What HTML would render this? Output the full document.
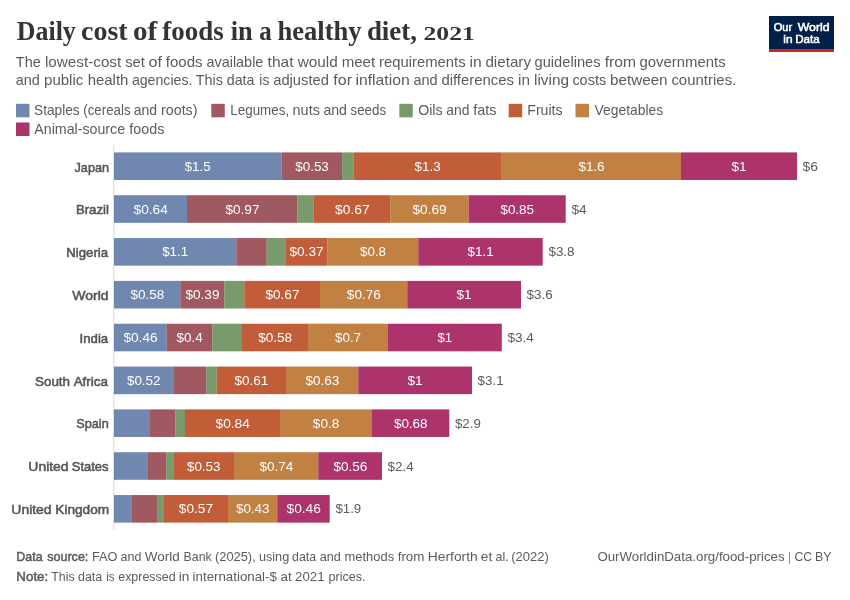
<!DOCTYPE html>
<html lang="en"><head><meta charset="utf-8"><title>Daily cost of foods in a healthy diet, 2021</title>
<style>html,body{margin:0;padding:0;background:#fff}svg{display:block}</style></head><body>
<svg width="850" height="600" viewBox="0 0 850 600" style="font-family:'Liberation Sans', sans-serif">
<rect width="850" height="600" fill="#fff"/>
<text y="40" font-family="'Liberation Serif', serif" font-weight="bold" font-size="28.2" fill="#333"><tspan x="16.86" textLength="58.92" lengthAdjust="spacingAndGlyphs">Daily</tspan> <tspan x="81.03" textLength="46.59" lengthAdjust="spacingAndGlyphs">cost</tspan> <tspan x="133.05" textLength="24.21" lengthAdjust="spacingAndGlyphs">of</tspan> <tspan x="162.21" textLength="61.43" lengthAdjust="spacingAndGlyphs">foods</tspan> <tspan x="230.72" textLength="21.96" lengthAdjust="spacingAndGlyphs">in</tspan> <tspan x="259.21" textLength="12.47" lengthAdjust="spacingAndGlyphs">a</tspan> <tspan x="277.44" textLength="84.11" lengthAdjust="spacingAndGlyphs">healthy</tspan> <tspan x="366.89" textLength="50.05" lengthAdjust="spacingAndGlyphs">diet,</tspan></text>
<text y="40" font-family="'Liberation Serif', serif" font-weight="bold" font-size="19.5" fill="#333"><tspan x="423.54" textLength="51.21" lengthAdjust="spacingAndGlyphs">2021</tspan></text>
<text y="67" font-size="15" fill="#5b5b5b"><tspan x="15.77" textLength="25.10" lengthAdjust="spacingAndGlyphs">The</tspan> <tspan x="44.99" textLength="76.23" lengthAdjust="spacingAndGlyphs">lowest-cost</tspan> <tspan x="125.24" textLength="19.67" lengthAdjust="spacingAndGlyphs">set</tspan> <tspan x="148.61" textLength="13.34" lengthAdjust="spacingAndGlyphs">of</tspan> <tspan x="165.76" textLength="36.84" lengthAdjust="spacingAndGlyphs">foods</tspan> <tspan x="206.40" textLength="57.00" lengthAdjust="spacingAndGlyphs">available</tspan> <tspan x="267.58" textLength="25.94" lengthAdjust="spacingAndGlyphs">that</tspan> <tspan x="297.68" textLength="40.11" lengthAdjust="spacingAndGlyphs">would</tspan> <tspan x="341.67" textLength="33.56" lengthAdjust="spacingAndGlyphs">meet</tspan> <tspan x="379.01" textLength="86.59" lengthAdjust="spacingAndGlyphs">requirements</tspan> <tspan x="469.46" textLength="12.21" lengthAdjust="spacingAndGlyphs">in</tspan> <tspan x="485.41" textLength="45.61" lengthAdjust="spacingAndGlyphs">dietary</tspan> <tspan x="534.54" textLength="66.06" lengthAdjust="spacingAndGlyphs">guidelines</tspan> <tspan x="604.74" textLength="31.28" lengthAdjust="spacingAndGlyphs">from</tspan> <tspan x="639.52" textLength="86.07" lengthAdjust="spacingAndGlyphs">governments</tspan></text>
<text y="85" font-size="15" fill="#5b5b5b"><tspan x="15.79" textLength="24.07" lengthAdjust="spacingAndGlyphs">and</tspan> <tspan x="44.03" textLength="39.30" lengthAdjust="spacingAndGlyphs">public</tspan> <tspan x="87.65" textLength="40.74" lengthAdjust="spacingAndGlyphs">health</tspan> <tspan x="131.89" textLength="60.60" lengthAdjust="spacingAndGlyphs">agencies.</tspan> <tspan x="195.84" textLength="27.14" lengthAdjust="spacingAndGlyphs">This</tspan> <tspan x="226.85" textLength="27.62" lengthAdjust="spacingAndGlyphs">data</tspan> <tspan x="259.33" textLength="9.96" lengthAdjust="spacingAndGlyphs">is</tspan> <tspan x="273.23" textLength="55.69" lengthAdjust="spacingAndGlyphs">adjusted</tspan> <tspan x="333.34" textLength="18.82" lengthAdjust="spacingAndGlyphs">for</tspan> <tspan x="355.42" textLength="54.26" lengthAdjust="spacingAndGlyphs">inflation</tspan> <tspan x="413.39" textLength="24.17" lengthAdjust="spacingAndGlyphs">and</tspan> <tspan x="441.40" textLength="72.59" lengthAdjust="spacingAndGlyphs">differences</tspan> <tspan x="518.02" textLength="11.93" lengthAdjust="spacingAndGlyphs">in</tspan> <tspan x="533.98" textLength="35.00" lengthAdjust="spacingAndGlyphs">living</tspan> <tspan x="572.40" textLength="33.73" lengthAdjust="spacingAndGlyphs">costs</tspan> <tspan x="610.01" textLength="57.60" lengthAdjust="spacingAndGlyphs">between</tspan> <tspan x="671.38" textLength="64.93" lengthAdjust="spacingAndGlyphs">countries.</tspan></text>
<rect x="769" y="16" width="65" height="33.2" fill="#002147"/>
<rect x="769" y="49" width="65" height="3" fill="#ce261e"/>
<text y="31" font-size="11.6" fill="#fff" stroke="#fff" stroke-width="0.55"><tspan x="773.64" textLength="18.48" lengthAdjust="spacingAndGlyphs">Our</tspan> <tspan x="797.67" textLength="31.91" lengthAdjust="spacingAndGlyphs">World</tspan></text>
<text y="43" font-size="11.6" fill="#fff" stroke="#fff" stroke-width="0.55"><tspan x="783.32" textLength="9.25" lengthAdjust="spacingAndGlyphs">in</tspan> <tspan x="795.14" textLength="24.47" lengthAdjust="spacingAndGlyphs">Data</tspan></text>
<rect x="16" y="103.8" width="13.5" height="13.5" fill="#7088b0"/>
<text y="115" font-size="14.4" fill="#5b5b5b"><tspan x="34.12" textLength="45.49" lengthAdjust="spacingAndGlyphs">Staples</tspan> <tspan x="83.21" textLength="47.40" lengthAdjust="spacingAndGlyphs">(cereals</tspan> <tspan x="133.80" textLength="23.37" lengthAdjust="spacingAndGlyphs">and</tspan> <tspan x="161.08" textLength="36.39" lengthAdjust="spacingAndGlyphs">roots)</tspan></text>
<rect x="211.3" y="103.8" width="13.5" height="13.5" fill="#a0595f"/>
<text y="115" font-size="14.4" fill="#5b5b5b"><tspan x="230.27" textLength="58.86" lengthAdjust="spacingAndGlyphs">Legumes,</tspan> <tspan x="292.58" textLength="27.30" lengthAdjust="spacingAndGlyphs">nuts</tspan> <tspan x="323.39" textLength="23.49" lengthAdjust="spacingAndGlyphs">and</tspan> <tspan x="350.51" textLength="35.63" lengthAdjust="spacingAndGlyphs">seeds</tspan></text>
<rect x="399.3" y="103.8" width="13.5" height="13.5" fill="#799a6a"/>
<text y="115" font-size="14.4" fill="#5b5b5b"><tspan x="418.13" textLength="24.47" lengthAdjust="spacingAndGlyphs">Oils</tspan> <tspan x="446.23" textLength="23.14" lengthAdjust="spacingAndGlyphs">and</tspan> <tspan x="473.32" textLength="23.27" lengthAdjust="spacingAndGlyphs">fats</tspan></text>
<rect x="508.7" y="103.8" width="13.5" height="13.5" fill="#c15d39"/>
<text y="115" font-size="14.4" fill="#5b5b5b"><tspan x="527.26" textLength="35.35" lengthAdjust="spacingAndGlyphs">Fruits</tspan></text>
<rect x="575.5" y="103.8" width="13.5" height="13.5" fill="#c18143"/>
<text y="115" font-size="14.4" fill="#5b5b5b"><tspan x="594.61" textLength="68.61" lengthAdjust="spacingAndGlyphs">Vegetables</tspan></text>
<rect x="16" y="122.5" width="13.5" height="13.5" fill="#ac336b"/>
<text y="134" font-size="14.4" fill="#5b5b5b"><tspan x="34.36" textLength="90.67" lengthAdjust="spacingAndGlyphs">Animal-source</tspan> <tspan x="129.32" textLength="35.02" lengthAdjust="spacingAndGlyphs">foods</tspan></text>
<rect x="113.3" y="145" width="1" height="385" fill="#d6d6d6"/>
<rect x="114.00" y="152.40" width="167.70" height="27.60" fill="#4C6A9C" fill-opacity="0.8"/>
<rect x="281.70" y="152.40" width="60.40" height="27.60" fill="#883039" fill-opacity="0.8"/>
<rect x="342.10" y="152.40" width="11.30" height="27.60" fill="#578145" fill-opacity="0.8"/>
<rect x="353.40" y="152.40" width="148.30" height="27.60" fill="#B13507" fill-opacity="0.8"/>
<rect x="501.70" y="152.40" width="179.30" height="27.60" fill="#B16214" fill-opacity="0.8"/>
<rect x="681.00" y="152.40" width="116.10" height="27.60" fill="#970046" fill-opacity="0.8"/>
<text y="171" font-size="13.5" fill="#fff"><tspan x="184.66" textLength="25.94" lengthAdjust="spacingAndGlyphs">$1.5</tspan></text>
<text y="171" font-size="13.5" fill="#fff"><tspan x="295.18" textLength="33.70" lengthAdjust="spacingAndGlyphs">$0.53</tspan></text>
<text y="171" font-size="13.5" fill="#fff"><tspan x="414.55" textLength="26.04" lengthAdjust="spacingAndGlyphs">$1.3</tspan></text>
<text y="171" font-size="13.5" fill="#fff"><tspan x="578.40" textLength="26.20" lengthAdjust="spacingAndGlyphs">$1.6</tspan></text>
<text y="171" font-size="13.5" fill="#fff"><tspan x="731.55" textLength="15.04" lengthAdjust="spacingAndGlyphs">$1</tspan></text>
<text y="171" font-size="13.5" fill="#5b5b5b"><tspan x="802.56" textLength="15.43" lengthAdjust="spacingAndGlyphs">$6</tspan></text>
<text y="172" font-size="13.5" fill="#555" stroke="#555" stroke-width="0.55"><tspan x="74.55" textLength="34.43" lengthAdjust="spacingAndGlyphs">Japan</tspan></text>
<rect x="114.00" y="195.23" width="73.00" height="27.60" fill="#4C6A9C" fill-opacity="0.8"/>
<rect x="187.00" y="195.23" width="110.30" height="27.60" fill="#883039" fill-opacity="0.8"/>
<rect x="297.30" y="195.23" width="16.40" height="27.60" fill="#578145" fill-opacity="0.8"/>
<rect x="313.70" y="195.23" width="76.60" height="27.60" fill="#B13507" fill-opacity="0.8"/>
<rect x="390.30" y="195.23" width="78.40" height="27.60" fill="#B16214" fill-opacity="0.8"/>
<rect x="468.70" y="195.23" width="97.00" height="27.60" fill="#970046" fill-opacity="0.8"/>
<text y="214" font-size="13.5" fill="#fff"><tspan x="133.56" textLength="34.34" lengthAdjust="spacingAndGlyphs">$0.64</tspan></text>
<text y="214" font-size="13.5" fill="#fff"><tspan x="225.40" textLength="34.10" lengthAdjust="spacingAndGlyphs">$0.97</tspan></text>
<text y="214" font-size="13.5" fill="#fff"><tspan x="335.11" textLength="34.46" lengthAdjust="spacingAndGlyphs">$0.67</tspan></text>
<text y="214" font-size="13.5" fill="#fff"><tspan x="412.55" textLength="34.05" lengthAdjust="spacingAndGlyphs">$0.69</tspan></text>
<text y="214" font-size="13.5" fill="#fff"><tspan x="500.40" textLength="33.71" lengthAdjust="spacingAndGlyphs">$0.85</tspan></text>
<text y="214" font-size="13.5" fill="#5b5b5b"><tspan x="571.41" textLength="15.22" lengthAdjust="spacingAndGlyphs">$4</tspan></text>
<text y="214" font-size="13.5" fill="#555" stroke="#555" stroke-width="0.55"><tspan x="75.92" textLength="33.04" lengthAdjust="spacingAndGlyphs">Brazil</tspan></text>
<rect x="114.00" y="238.06" width="122.30" height="27.60" fill="#4C6A9C" fill-opacity="0.8"/>
<rect x="236.30" y="238.06" width="30.40" height="27.60" fill="#883039" fill-opacity="0.8"/>
<rect x="266.70" y="238.06" width="18.60" height="27.60" fill="#578145" fill-opacity="0.8"/>
<rect x="285.30" y="238.06" width="42.00" height="27.60" fill="#B13507" fill-opacity="0.8"/>
<rect x="327.30" y="238.06" width="91.00" height="27.60" fill="#B16214" fill-opacity="0.8"/>
<rect x="418.30" y="238.06" width="124.40" height="27.60" fill="#970046" fill-opacity="0.8"/>
<text y="256" font-size="13.5" fill="#fff"><tspan x="162.18" textLength="26.00" lengthAdjust="spacingAndGlyphs">$1.1</tspan></text>
<text y="256" font-size="13.5" fill="#fff"><tspan x="289.40" textLength="34.20" lengthAdjust="spacingAndGlyphs">$0.37</tspan></text>
<text y="256" font-size="13.5" fill="#fff"><tspan x="359.91" textLength="26.19" lengthAdjust="spacingAndGlyphs">$0.8</tspan></text>
<text y="256" font-size="13.5" fill="#fff"><tspan x="467.55" textLength="26.05" lengthAdjust="spacingAndGlyphs">$1.1</tspan></text>
<text y="256" font-size="13.5" fill="#5b5b5b"><tspan x="548.40" textLength="26.20" lengthAdjust="spacingAndGlyphs">$3.8</tspan></text>
<text y="257" font-size="13.5" fill="#555" stroke="#555" stroke-width="0.55"><tspan x="66.35" textLength="41.74" lengthAdjust="spacingAndGlyphs">Nigeria</tspan></text>
<rect x="114.00" y="280.89" width="66.30" height="27.60" fill="#4C6A9C" fill-opacity="0.8"/>
<rect x="180.30" y="280.89" width="44.00" height="27.60" fill="#883039" fill-opacity="0.8"/>
<rect x="224.30" y="280.89" width="20.00" height="27.60" fill="#578145" fill-opacity="0.8"/>
<rect x="244.30" y="280.89" width="75.70" height="27.60" fill="#B13507" fill-opacity="0.8"/>
<rect x="320.00" y="280.89" width="87.30" height="27.60" fill="#B16214" fill-opacity="0.8"/>
<rect x="407.30" y="280.89" width="113.70" height="27.60" fill="#970046" fill-opacity="0.8"/>
<text y="299" font-size="13.5" fill="#fff"><tspan x="130.40" textLength="33.88" lengthAdjust="spacingAndGlyphs">$0.58</tspan></text>
<text y="299" font-size="13.5" fill="#fff"><tspan x="185.40" textLength="34.07" lengthAdjust="spacingAndGlyphs">$0.39</tspan></text>
<text y="299" font-size="13.5" fill="#fff"><tspan x="265.40" textLength="34.10" lengthAdjust="spacingAndGlyphs">$0.67</tspan></text>
<text y="299" font-size="13.5" fill="#fff"><tspan x="346.89" textLength="33.98" lengthAdjust="spacingAndGlyphs">$0.76</tspan></text>
<text y="299" font-size="13.5" fill="#fff"><tspan x="456.55" textLength="15.04" lengthAdjust="spacingAndGlyphs">$1</tspan></text>
<text y="299" font-size="13.5" fill="#5b5b5b"><tspan x="526.55" textLength="26.26" lengthAdjust="spacingAndGlyphs">$3.6</tspan></text>
<text y="300" font-size="13.5" fill="#555" stroke="#555" stroke-width="0.55"><tspan x="72.26" textLength="36.32" lengthAdjust="spacingAndGlyphs">World</tspan></text>
<rect x="114.00" y="323.72" width="52.70" height="27.60" fill="#4C6A9C" fill-opacity="0.8"/>
<rect x="166.70" y="323.72" width="45.60" height="27.60" fill="#883039" fill-opacity="0.8"/>
<rect x="212.30" y="323.72" width="29.70" height="27.60" fill="#578145" fill-opacity="0.8"/>
<rect x="242.00" y="323.72" width="66.00" height="27.60" fill="#B13507" fill-opacity="0.8"/>
<rect x="308.00" y="323.72" width="79.70" height="27.60" fill="#B16214" fill-opacity="0.8"/>
<rect x="387.70" y="323.72" width="114.10" height="27.60" fill="#970046" fill-opacity="0.8"/>
<text y="342" font-size="13.5" fill="#fff"><tspan x="123.40" textLength="34.20" lengthAdjust="spacingAndGlyphs">$0.46</tspan></text>
<text y="342" font-size="13.5" fill="#fff"><tspan x="176.56" textLength="26.15" lengthAdjust="spacingAndGlyphs">$0.4</tspan></text>
<text y="342" font-size="13.5" fill="#fff"><tspan x="258.15" textLength="34.06" lengthAdjust="spacingAndGlyphs">$0.58</tspan></text>
<text y="342" font-size="13.5" fill="#fff"><tspan x="334.91" textLength="26.21" lengthAdjust="spacingAndGlyphs">$0.7</tspan></text>
<text y="342" font-size="13.5" fill="#fff"><tspan x="437.41" textLength="14.75" lengthAdjust="spacingAndGlyphs">$1</tspan></text>
<text y="342" font-size="13.5" fill="#5b5b5b"><tspan x="507.40" textLength="26.44" lengthAdjust="spacingAndGlyphs">$3.4</tspan></text>
<text y="343" font-size="13.5" fill="#555" stroke="#555" stroke-width="0.55"><tspan x="79.58" textLength="28.60" lengthAdjust="spacingAndGlyphs">India</tspan></text>
<rect x="114.00" y="366.55" width="59.30" height="27.60" fill="#4C6A9C" fill-opacity="0.8"/>
<rect x="173.30" y="366.55" width="33.00" height="27.60" fill="#883039" fill-opacity="0.8"/>
<rect x="206.30" y="366.55" width="10.40" height="27.60" fill="#578145" fill-opacity="0.8"/>
<rect x="216.70" y="366.55" width="69.30" height="27.60" fill="#B13507" fill-opacity="0.8"/>
<rect x="286.00" y="366.55" width="72.30" height="27.60" fill="#B16214" fill-opacity="0.8"/>
<rect x="358.30" y="366.55" width="113.70" height="27.60" fill="#970046" fill-opacity="0.8"/>
<text y="385" font-size="13.5" fill="#fff"><tspan x="126.91" textLength="33.68" lengthAdjust="spacingAndGlyphs">$0.52</tspan></text>
<text y="385" font-size="13.5" fill="#fff"><tspan x="234.40" textLength="33.97" lengthAdjust="spacingAndGlyphs">$0.61</tspan></text>
<text y="385" font-size="13.5" fill="#fff"><tspan x="305.40" textLength="33.93" lengthAdjust="spacingAndGlyphs">$0.63</tspan></text>
<text y="385" font-size="13.5" fill="#fff"><tspan x="407.55" textLength="15.04" lengthAdjust="spacingAndGlyphs">$1</tspan></text>
<text y="385" font-size="13.5" fill="#5b5b5b"><tspan x="477.55" textLength="26.05" lengthAdjust="spacingAndGlyphs">$3.1</tspan></text>
<text y="386" font-size="13.5" fill="#555" stroke="#555" stroke-width="0.55"><tspan x="34.97" textLength="35.11" lengthAdjust="spacingAndGlyphs">South</tspan> <tspan x="73.63" textLength="34.35" lengthAdjust="spacingAndGlyphs">Africa</tspan></text>
<rect x="114.00" y="409.38" width="35.30" height="27.60" fill="#4C6A9C" fill-opacity="0.8"/>
<rect x="149.30" y="409.38" width="26.00" height="27.60" fill="#883039" fill-opacity="0.8"/>
<rect x="175.30" y="409.38" width="9.70" height="27.60" fill="#578145" fill-opacity="0.8"/>
<rect x="185.00" y="409.38" width="95.00" height="27.60" fill="#B13507" fill-opacity="0.8"/>
<rect x="280.00" y="409.38" width="92.00" height="27.60" fill="#B16214" fill-opacity="0.8"/>
<rect x="372.00" y="409.38" width="77.30" height="27.60" fill="#970046" fill-opacity="0.8"/>
<text y="428" font-size="13.5" fill="#fff"><tspan x="215.56" textLength="34.34" lengthAdjust="spacingAndGlyphs">$0.84</tspan></text>
<text y="428" font-size="13.5" fill="#fff"><tspan x="312.89" textLength="26.49" lengthAdjust="spacingAndGlyphs">$0.8</tspan></text>
<text y="428" font-size="13.5" fill="#fff"><tspan x="393.91" textLength="33.68" lengthAdjust="spacingAndGlyphs">$0.68</tspan></text>
<text y="428" font-size="13.5" fill="#5b5b5b"><tspan x="454.94" textLength="25.82" lengthAdjust="spacingAndGlyphs">$2.9</tspan></text>
<text y="428" font-size="13.5" fill="#555" stroke="#555" stroke-width="0.55"><tspan x="76.33" textLength="32.39" lengthAdjust="spacingAndGlyphs">Spain</tspan></text>
<rect x="114.00" y="452.21" width="33.30" height="27.60" fill="#4C6A9C" fill-opacity="0.8"/>
<rect x="147.30" y="452.21" width="19.00" height="27.60" fill="#883039" fill-opacity="0.8"/>
<rect x="166.30" y="452.21" width="7.00" height="27.60" fill="#578145" fill-opacity="0.8"/>
<rect x="173.30" y="452.21" width="60.70" height="27.60" fill="#B13507" fill-opacity="0.8"/>
<rect x="234.00" y="452.21" width="84.30" height="27.60" fill="#B16214" fill-opacity="0.8"/>
<rect x="318.30" y="452.21" width="63.70" height="27.60" fill="#970046" fill-opacity="0.8"/>
<text y="471" font-size="13.5" fill="#fff"><tspan x="186.91" textLength="33.68" lengthAdjust="spacingAndGlyphs">$0.53</tspan></text>
<text y="471" font-size="13.5" fill="#fff"><tspan x="259.40" textLength="33.95" lengthAdjust="spacingAndGlyphs">$0.74</tspan></text>
<text y="471" font-size="13.5" fill="#fff"><tspan x="333.40" textLength="33.94" lengthAdjust="spacingAndGlyphs">$0.56</tspan></text>
<text y="471" font-size="13.5" fill="#5b5b5b"><tspan x="387.56" textLength="26.15" lengthAdjust="spacingAndGlyphs">$2.4</tspan></text>
<text y="471" font-size="13.5" fill="#555" stroke="#555" stroke-width="0.55"><tspan x="28.36" textLength="40.24" lengthAdjust="spacingAndGlyphs">United</tspan> <tspan x="71.81" textLength="36.76" lengthAdjust="spacingAndGlyphs">States</tspan></text>
<rect x="114.00" y="495.04" width="17.30" height="27.60" fill="#4C6A9C" fill-opacity="0.8"/>
<rect x="131.30" y="495.04" width="25.70" height="27.60" fill="#883039" fill-opacity="0.8"/>
<rect x="157.00" y="495.04" width="6.30" height="27.60" fill="#578145" fill-opacity="0.8"/>
<rect x="163.30" y="495.04" width="64.70" height="27.60" fill="#B13507" fill-opacity="0.8"/>
<rect x="228.00" y="495.04" width="49.30" height="27.60" fill="#B16214" fill-opacity="0.8"/>
<rect x="277.30" y="495.04" width="52.40" height="27.60" fill="#970046" fill-opacity="0.8"/>
<text y="513" font-size="13.5" fill="#fff"><tspan x="178.89" textLength="34.14" lengthAdjust="spacingAndGlyphs">$0.57</tspan></text>
<text y="513" font-size="13.5" fill="#fff"><tspan x="235.91" textLength="33.68" lengthAdjust="spacingAndGlyphs">$0.43</tspan></text>
<text y="513" font-size="13.5" fill="#fff"><tspan x="286.55" textLength="34.30" lengthAdjust="spacingAndGlyphs">$0.46</tspan></text>
<text y="513" font-size="13.5" fill="#5b5b5b"><tspan x="335.41" textLength="25.86" lengthAdjust="spacingAndGlyphs">$1.9</tspan></text>
<text y="514" font-size="13.5" fill="#555" stroke="#555" stroke-width="0.55"><tspan x="11.36" textLength="40.24" lengthAdjust="spacingAndGlyphs">United</tspan> <tspan x="55.33" textLength="53.79" lengthAdjust="spacingAndGlyphs">Kingdom</tspan></text>
<text y="561" font-size="13" fill="#5b5b5b" stroke="#5b5b5b" stroke-width="0.5"><tspan x="16.36" textLength="26.25" lengthAdjust="spacingAndGlyphs">Data</tspan> <tspan x="47.27" textLength="41.07" lengthAdjust="spacingAndGlyphs">source:</tspan></text>
<text y="561" font-size="13" fill="#5b5b5b"><tspan x="91.99" textLength="25.47" lengthAdjust="spacingAndGlyphs">FAO</tspan> <tspan x="120.55" textLength="20.86" lengthAdjust="spacingAndGlyphs">and</tspan> <tspan x="144.76" textLength="35.04" lengthAdjust="spacingAndGlyphs">World</tspan> <tspan x="183.58" textLength="28.14" lengthAdjust="spacingAndGlyphs">Bank</tspan> <tspan x="214.96" textLength="40.79" lengthAdjust="spacingAndGlyphs">(2025),</tspan> <tspan x="258.95" textLength="30.26" lengthAdjust="spacingAndGlyphs">using</tspan> <tspan x="292.10" textLength="24.03" lengthAdjust="spacingAndGlyphs">data</tspan> <tspan x="319.76" textLength="21.08" lengthAdjust="spacingAndGlyphs">and</tspan> <tspan x="344.56" textLength="49.60" lengthAdjust="spacingAndGlyphs">methods</tspan> <tspan x="397.68" textLength="26.72" lengthAdjust="spacingAndGlyphs">from</tspan> <tspan x="427.88" textLength="49.75" lengthAdjust="spacingAndGlyphs">Herforth</tspan> <tspan x="480.75" textLength="11.44" lengthAdjust="spacingAndGlyphs">et</tspan> <tspan x="495.48" textLength="13.23" lengthAdjust="spacingAndGlyphs">al.</tspan> <tspan x="511.21" textLength="37.54" lengthAdjust="spacingAndGlyphs">(2022)</tspan></text>
<text y="581" font-size="13" fill="#5b5b5b" stroke="#5b5b5b" stroke-width="0.5"><tspan x="16.32" textLength="31.96" lengthAdjust="spacingAndGlyphs">Note:</tspan></text>
<text y="581" font-size="13" fill="#5b5b5b"><tspan x="51.28" textLength="23.30" lengthAdjust="spacingAndGlyphs">This</tspan> <tspan x="78.04" textLength="24.09" lengthAdjust="spacingAndGlyphs">data</tspan> <tspan x="106.29" textLength="8.37" lengthAdjust="spacingAndGlyphs">is</tspan> <tspan x="118.25" textLength="57.32" lengthAdjust="spacingAndGlyphs">expressed</tspan> <tspan x="178.72" textLength="10.63" lengthAdjust="spacingAndGlyphs">in</tspan> <tspan x="192.63" textLength="84.22" lengthAdjust="spacingAndGlyphs">international-$</tspan> <tspan x="280.42" textLength="11.24" lengthAdjust="spacingAndGlyphs">at</tspan> <tspan x="295.14" textLength="29.45" lengthAdjust="spacingAndGlyphs">2021</tspan> <tspan x="328.49" textLength="37.11" lengthAdjust="spacingAndGlyphs">prices.</tspan></text>
<text y="561" font-size="13" fill="#5b5b5b"><tspan x="597.40" textLength="187.20" lengthAdjust="spacingAndGlyphs">OurWorldinData.org/food-prices</tspan> <tspan x="788.29" textLength="2.20" lengthAdjust="spacingAndGlyphs">|</tspan> <tspan x="794.39" textLength="17.53" lengthAdjust="spacingAndGlyphs">CC</tspan> <tspan x="815.01" textLength="16.60" lengthAdjust="spacingAndGlyphs">BY</tspan></text>
</svg></body></html>
